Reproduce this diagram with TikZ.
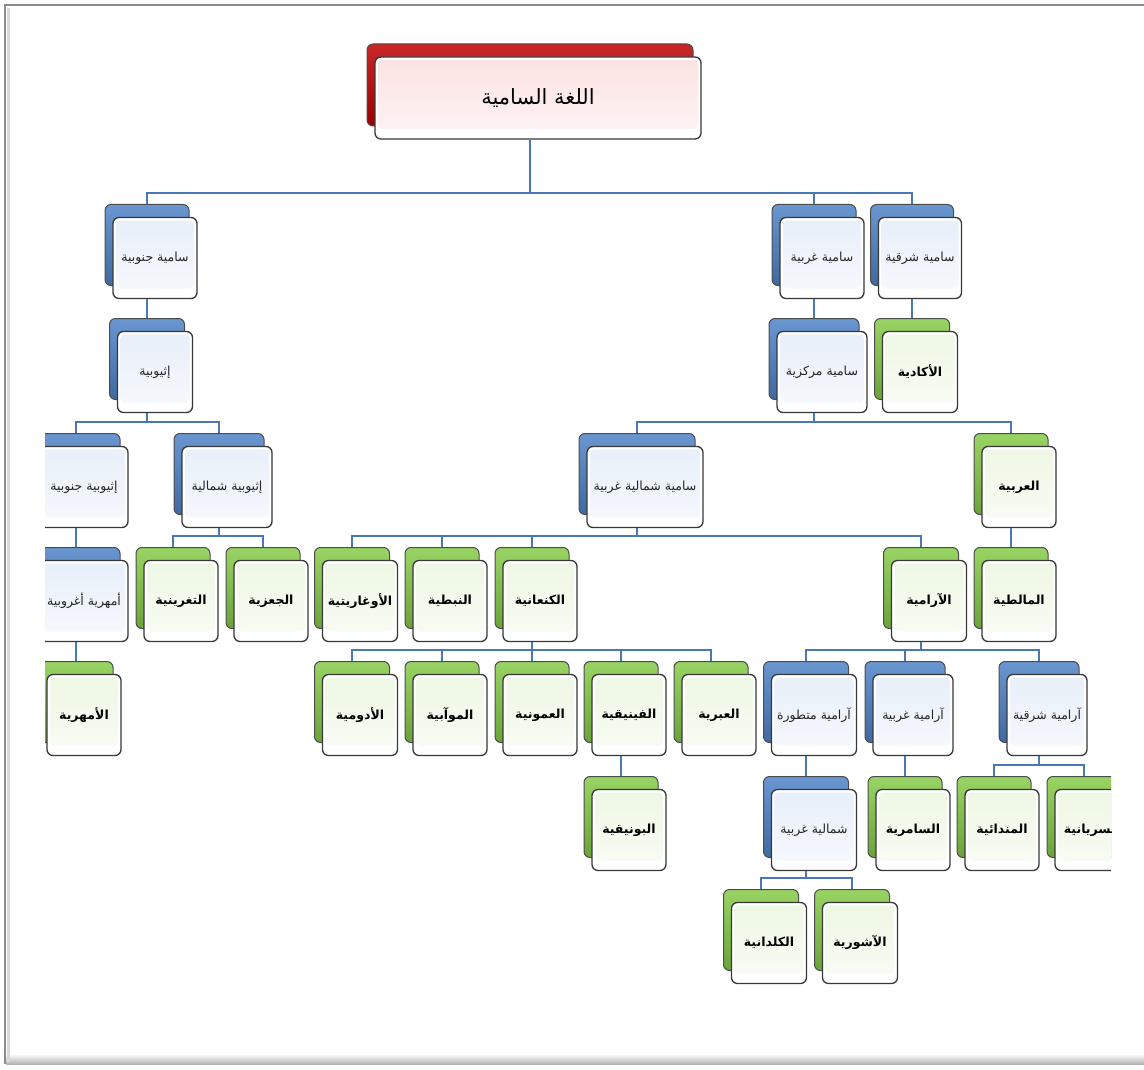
\documentclass[tikz,border=0pt]{standalone}
\usepackage{fontspec}
\usetikzlibrary{shadows}
\newfontfamily\arabicfont[Script=Arabic]{DejaVu Sans}
\TeXXeTstate=1
\newcommand\rtltext[1]{\beginR#1\endR}

\definecolor{linkblue}{HTML}{4A78B5}
\definecolor{backblue}{HTML}{4F84C8}
\definecolor{backgreen}{HTML}{86CC48}
\definecolor{backred}{HTML}{C00000}
\definecolor{tintblue}{HTML}{E8EFF9}
\definecolor{tintgreen}{HTML}{EEF7E4}
\definecolor{tintred}{HTML}{FBE2E2}

\tikzset{
  tint/.style={path picture={\shade[rounded corners=4pt, top color=#1, bottom color=#1!35!white]
      ([shift={(3pt,-3pt)}]path picture bounding box.north west) rectangle
      ([shift={(-3pt,10pt)}]path picture bounding box.south east);}},
  langbox/.style 2 args={rounded corners=6pt, draw=black!78, line width=1.3pt, fill=white,
      minimum height=81pt, inner sep=2pt,
      general shadow={shadow xshift=-8pt, shadow yshift=13pt, top color=#1!85!white,
        middle color=#1, bottom color=#1!80!black, draw=black!70, line width=1pt},
      tint=#2},
  bluebox/.style={langbox={backblue}{tintblue}, text=black!85,
      font=\arabicfont\fontsize{12.5}{14}\selectfont},
  greenbox/.style={langbox={backgreen}{tintgreen},
      font=\arabicfont\bfseries\fontsize{12.5}{14}\selectfont},
  redbox/.style={langbox={backred}{tintred}, minimum height=82pt,
      font=\arabicfont\fontsize{21}{25}\selectfont},
  link/.style={draw=linkblue, line width=2.5pt},
  elbow/.style={to path={([xshift=-8pt]\tikztostart.south) |- ([xshift=-8pt,yshift=24pt]\tikztotarget.north)
      -- ([xshift=-8pt,yshift=13pt]\tikztotarget.north)}}
}

\begin{document}
\begin{tikzpicture}[x=1pt,y=-1pt]
    \useasboundingbox (0,0) rectangle (1144,1070);

    % page frame
    \shade[top color=white, bottom color=black!30] (6,1054) rectangle (1144,1064);
    \draw[black!45, line width=1.5pt] (5,1064) -- (5,5) -- (1144,5);
    \draw[black!15, line width=3pt] (8,8) -- (8,1062);

    \begin{scope}
    \clip (45,0) rectangle (1111,1070);

    \node[redbox, minimum width=326pt](lang) at (538,98){\rtltext{اللغة السامية}};

    \node[bluebox, minimum width=84pt](semS) at (155,258){\rtltext{سامية جنوبية}};
    \node[bluebox, minimum width=84pt](semW) at (822,258){\rtltext{سامية غربية}};
    \node[bluebox, minimum width=83pt](semE) at (920,258){\rtltext{سامية شرقية}};

    \node[bluebox, minimum width=75pt](ethio) at (155,372){\rtltext{إثيوبية}};
    \node[bluebox, minimum width=90pt](semC) at (822,372){\rtltext{سامية مركزية}};
    \node[greenbox, minimum width=75pt](akkad) at (920,372){\rtltext{الأكادية}};

    \node[bluebox, minimum width=88pt](ethS) at (84,487){\rtltext{إثيوبية جنوبية}};
    \node[bluebox, minimum width=90pt](ethN) at (227,487){\rtltext{إثيوبية شمالية}};
    \node[bluebox, minimum width=116pt](semNW) at (645,487){\rtltext{سامية شمالية غربية}};
    \node[greenbox, minimum width=74pt](arabic) at (1019,487){\rtltext{العربية}};

    \node[bluebox, minimum width=88pt](amhArg) at (84,601){\rtltext{أمهرية أغروبية}};
    \node[greenbox, minimum width=74pt](tigrinya) at (181,601){\rtltext{التغرينية}};
    \node[greenbox, minimum width=74pt](geez) at (271,601){\rtltext{الجعزية}};
    \node[greenbox, minimum width=75pt](ugarit) at (360,601){\rtltext{الأوغاريتية}};
    \node[greenbox, minimum width=74pt](nabat) at (450,601){\rtltext{النبطية}};
    \node[greenbox, minimum width=74pt](canaan) at (540,601){\rtltext{الكنعانية}};
    \node[greenbox, minimum width=75pt](aramaic) at (929,601){\rtltext{الآرامية}};
    \node[greenbox, minimum width=74pt](maltese) at (1019,601){\rtltext{المالطية}};

    \node[greenbox, minimum width=74pt](amharic) at (84,715){\rtltext{الأمهرية}};
    \node[greenbox, minimum width=75pt](edomite) at (360,715){\rtltext{الأدومية}};
    \node[greenbox, minimum width=74pt](moabite) at (450,715){\rtltext{الموآبية}};
    \node[greenbox, minimum width=74pt](ammonite) at (540,715){\rtltext{العمونية}};
    \node[greenbox, minimum width=74pt](phoenic) at (629,715){\rtltext{الفينيقية}};
    \node[greenbox, minimum width=74pt](hebrew) at (719,715){\rtltext{العبرية}};
    \node[bluebox, minimum width=85pt](aramLate) at (814,715){\rtltext{آرامية متطورة}};
    \node[bluebox, minimum width=80pt](aramW) at (913,715){\rtltext{آرامية غربية}};
    \node[bluebox, minimum width=80pt](aramE) at (1047,715){\rtltext{آرامية شرقية}};

    \node[greenbox, minimum width=74pt](punic) at (629,830){\rtltext{البونيقية}};
    \node[bluebox, minimum width=85pt](nwAram) at (814,830){\rtltext{شمالية غربية}};
    \node[greenbox, minimum width=74pt](samarit) at (913,830){\rtltext{السامرية}};
    \node[greenbox, minimum width=74pt](mandaic) at (1002,830){\rtltext{المندائية}};
    \node[greenbox, minimum width=74pt](syriac) at (1092,830){\rtltext{السريانية}};

    \node[greenbox, minimum width=75pt](chaldean) at (769,943){\rtltext{الكلدانية}};
    \node[greenbox, minimum width=75pt](assyrian) at (860,943){\rtltext{الآشورية}};

    % tree links
    \draw[link] (lang) to[elbow] (semS) (lang) to[elbow] (semW) (lang) to[elbow] (semE);
    \draw[link] (semS) to[elbow] (ethio);
    \draw[link] (semW) to[elbow] (semC);
    \draw[link] (semE) to[elbow] (akkad);
    \draw[link] (ethio) to[elbow] (ethS) (ethio) to[elbow] (ethN);
    \draw[link] (semC) to[elbow] (semNW) (semC) to[elbow] (arabic);
    \draw[link] (ethS) to[elbow] (amhArg);
    \draw[link] (ethN) to[elbow] (tigrinya) (ethN) to[elbow] (geez);
    \draw[link] (semNW) to[elbow] (ugarit) (semNW) to[elbow] (nabat)
                (semNW) to[elbow] (canaan) (semNW) to[elbow] (aramaic);
    \draw[link] (arabic) to[elbow] (maltese);
    \draw[link] (amhArg) to[elbow] (amharic);
    \draw[link] (canaan) to[elbow] (edomite) (canaan) to[elbow] (moabite)
                (canaan) to[elbow] (ammonite) (canaan) to[elbow] (phoenic)
                (canaan) to[elbow] (hebrew);
    \draw[link] (aramaic) to[elbow] (aramLate) (aramaic) to[elbow] (aramW) (aramaic) to[elbow] (aramE);
    \draw[link] (phoenic) to[elbow] (punic);
    \draw[link] (aramLate) to[elbow] (nwAram);
    \draw[link] (aramW) to[elbow] (samarit);
    \draw[link] (aramE) to[elbow] (mandaic) (aramE) to[elbow] (syriac);
    \draw[link] (nwAram) to[elbow] (chaldean) (nwAram) to[elbow] (assyrian);
    \end{scope}

  \end{tikzpicture}
\end{document}
